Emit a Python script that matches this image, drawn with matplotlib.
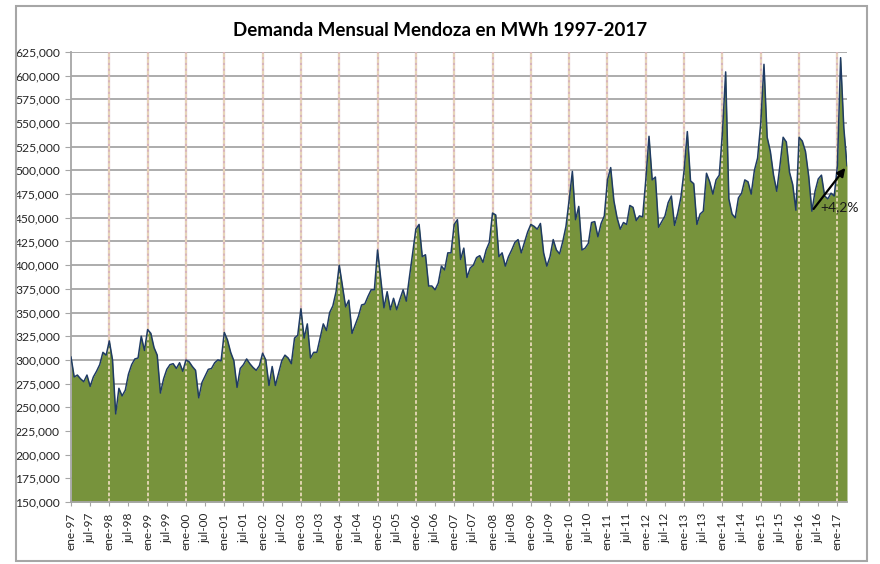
import matplotlib
matplotlib.use("Agg")
import matplotlib.pyplot as plt
from matplotlib.patches import Rectangle
from matplotlib.ticker import FuncFormatter, MultipleLocator
import numpy as np

# ---- data (MWh, monthly, ene-97 .. abr-17) ----
d1997 = [303000, 282000, 284000, 280000, 277000, 284000, 272000, 282000, 288000, 295000, 308000, 305000]
d1998 = [320000, 300000, 243000, 270000, 262000, 268000, 285000, 295000, 301000, 302000, 325000, 310000]
d1999 = [332000, 328000, 313000, 305000, 265000, 280000, 290000, 295000, 296000, 291000, 297000, 288000]
d2000 = [300000, 298000, 293000, 289000, 260000, 276000, 283000, 290000, 291000, 297000, 300000, 299000]
d2001 = [329000, 321000, 308000, 299000, 271000, 291000, 295000, 301000, 296000, 292000, 289000, 294000]
d2002 = [307000, 300000, 273000, 293000, 273000, 286000, 299000, 305000, 302000, 296000, 323000, 326000]
d2003 = [354000, 323000, 338000, 302000, 308000, 308000, 323000, 338000, 331000, 350000, 357000, 372000]
d2004 = [400000, 378000, 356000, 363000, 328000, 337000, 346000, 358000, 359000, 367000, 374000, 374000]
d2005 = [416000, 385000, 355000, 372000, 353000, 365000, 353000, 364000, 374000, 362000, 388000, 413000]
d2006 = [438000, 443000, 409000, 411000, 378000, 378000, 374000, 381000, 399000, 395000, 413000, 413000]
d2007 = [443000, 448000, 406000, 418000, 387000, 397000, 400000, 408000, 410000, 403000, 416000, 424000]
d2008 = [455000, 453000, 409000, 413000, 399000, 409000, 416000, 424000, 427000, 413000, 424000, 435000]
d2009 = [443000, 441000, 438000, 444000, 413000, 399000, 409000, 427000, 416000, 412000, 425000, 441000]
d2010 = [469000, 499000, 448000, 462000, 416000, 418000, 423000, 445000, 446000, 430000, 444000, 452000]
d2011 = [490000, 503000, 468000, 450000, 438000, 445000, 443000, 463000, 461000, 447000, 452000, 451000]
d2012 = [490000, 536000, 490000, 493000, 440000, 446000, 452000, 466000, 473000, 442000, 455000, 472000]
d2013 = [500000, 541000, 489000, 486000, 443000, 454000, 457000, 497000, 488000, 475000, 490000, 495000]
d2014 = [540000, 604000, 470000, 454000, 450000, 471000, 476000, 490000, 488000, 475000, 500000, 513000]
d2015 = [550000, 612000, 535000, 520000, 495000, 478000, 505000, 535000, 530000, 498000, 485000, 458000]
d2016 = [535000, 531000, 520000, 494000, 457000, 478000, 491000, 495000, 473000, 470000, 476000, 473000]
d2017 = [505000, 619000, 545000, 505000]

years = list(range(1997, 2018))
month_abbr = ["ene", "jul"]
title = "Demanda Mensual Mendoza en MWh 1997-2017"
annot_text = "+4,2%"
arrow_from_idx, arrow_to_idx = 232, 243

values = np.array(d1997 + d1998 + d1999 + d2000 + d2001 + d2002 + d2003 + d2004 + d2005 +
                  d2006 + d2007 + d2008 + d2009 + d2010 + d2011 + d2012 + d2013 + d2014 +
                  d2015 + d2016 + d2017, dtype=float)
idx = np.arange(len(values))

plt.rcParams['font.family'] = ['Lato', 'DejaVu Sans']

fig = plt.figure(figsize=(8.8, 5.64), dpi=100)
fig.patch.set_facecolor('white')

# chart border
fig.patches.append(Rectangle((16/880, 3/564), (867-16)/880, (558-3)/564,
                             transform=fig.transFigure, fill=False,
                             edgecolor='#a6a6a6', linewidth=1.5))

ax = fig.add_axes([71/880, 62/564, 776/880, 450/564])
ymin, ymax = 150000, 625000
ax.set_xlim(0, len(values) - 1)
ax.set_ylim(ymin, ymax)

# horizontal gridlines
ax.yaxis.set_major_locator(MultipleLocator(25000))
ax.grid(axis='y', color='#a6a6a6', linewidth=1.3, zorder=0)
ax.set_axisbelow(True)

# area
ax.fill_between(idx, values, ymin, color='#77933c', linewidth=0, zorder=2)
ax.plot(idx, values, color='#1f3b63', linewidth=1.1, zorder=3)

# yearly vertical lines (January)
for k, y in enumerate(years[1:], start=1):
    xj = 12 * k
    if xj < len(values):
        ax.axvline(xj, color='#d8b4bc', linewidth=1.6, zorder=1)
        ax.axvline(xj, color='#e9d9b9', linewidth=1.3, linestyle=(0, (2, 1.2)), zorder=2.5)

# x ticks every 6 months
tick_pos, tick_lab = [], []
for k, y in enumerate(years):
    for m, name in zip([0, 6], month_abbr):
        p = 12 * k + m
        if p < len(values):
            tick_pos.append(p)
            tick_lab.append(f"{name}-{y % 100:02d}")
ax.set_xticks(tick_pos)
ax.set_xticklabels(tick_lab, rotation=90, fontsize=8.5, color='#262626')
ax.tick_params(axis='x', length=3, color='#a6a6a6', pad=5)
ax.tick_params(axis='y', length=4, color='#a6a6a6', labelsize=8.7, labelcolor='#262626', pad=4)
ax.yaxis.set_major_formatter(FuncFormatter(lambda v, p: f"{int(v):,}"))

for s in ['top', 'right']:
    ax.spines[s].set_visible(False)
ax.spines['left'].set_color('#a6a6a6')
ax.spines['bottom'].set_color('#a6a6a6')
ax.spines['left'].set_linewidth(1.3)
ax.spines['bottom'].set_linewidth(1.3)

# annotation arrow
ax.annotate('', xy=(arrow_to_idx, values[arrow_to_idx]),
            xytext=(arrow_from_idx, values[arrow_from_idx]),
            arrowprops=dict(arrowstyle='-|>', color='black', lw=1.6, mutation_scale=12),
            zorder=6, annotation_clip=False)
ax.text(arrow_from_idx + 2.5, 461000, annot_text, fontsize=10, color='#1a1a1a',
        va='center', ha='left', zorder=6, clip_on=False)

fig.text(0.5, 1 - 30/564, title, ha='center', va='center', fontsize=13.5,
         fontweight='bold', color='black')

fig.savefig('out.png', dpi=100, facecolor='white')
